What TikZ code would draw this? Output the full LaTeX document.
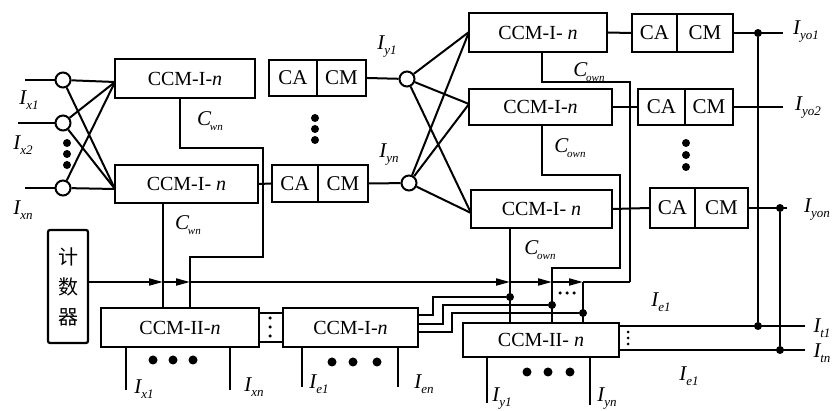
\documentclass[tikz,border=0pt]{standalone}
\usepackage{fontspec}
\setmainfont{Liberation Serif}
\newfontfamily\cjk{Noto Sans CJK SC}
\usetikzlibrary{arrows.meta}
\newcommand{\Iv}[1]{{\fontsize{21}{21}\selectfont\textit{I}\kern-1pt\raisebox{-5pt}{\fontsize{13}{13}\selectfont\textit{#1}}}}
\newcommand{\Cv}[1]{{\fontsize{21}{21}\selectfont\textit{C}\kern-1.5pt\raisebox{-5pt}{\fontsize{11}{11}\selectfont\textit{#1}}}}
\begin{document}
\begin{tikzpicture}[x=1pt,y=-1pt,
  box/.style={draw, line width=2.2pt, inner sep=0pt, font=\fontsize{20}{21}\selectfont},
  cabox/.style={draw, line width=2.2pt, inner sep=0pt, font=\fontsize{21}{22}\selectfont},
  wire/.style={line width=2pt},
  dot/.style={circle, fill, inner sep=0pt, minimum size=8pt},
  sdot/.style={circle, fill, inner sep=0pt, minimum size=3.5pt},
  port/.style={circle, draw, line width=2pt, fill=white, minimum size=15pt, inner sep=0pt},
  lab/.style={inner sep=0pt},
  arr/.style={-{Triangle[length=14pt,width=7pt]}}]
\useasboundingbox (0,0) rectangle (836,411);

% ---------- left input stage ----------
\node[port] (P1) at (63,80) {};
\node[port] (P2) at (63,123) {};
\node[port] (P3) at (63,188) {};
\coordinate (i1) at (25,80);
\coordinate (i2) at (18,123);
\coordinate (i3) at (25,188);
\draw[wire] (i1) -- (P1);
\draw[wire] (i2) -- (P2);
\draw[wire] (i3) -- (P3);
\foreach \y in {143,154,165} \node[dot] (ld\y) at (67,\y) {};
\node[lab] (lx1) at (29,100) {\Iv{x1}};
\node[lab] (lx2) at (23,145) {\Iv{x2}};
\node[lab] (lxn) at (23,210) {\Iv{xn}};

\node[box, minimum width=140pt, minimum height=39pt] (L1) at (185,78.5) {CCM-I-\textit{n}};
\node[box, minimum width=143pt, minimum height=38pt] (L2) at (186.5,184) {CCM-I- \textit{n}};
\coordinate (L1in) at (115,82);
\coordinate (L2in) at (115,189);
\foreach \p in {P1,P2,P3} {\draw[wire] (\p) -- (L1in); \draw[wire] (\p) -- (L2in);}

% ---------- middle CA/CM ----------
\node[cabox, minimum width=48pt, minimum height=36pt] (A1) at (293,78) {CA};
\node[cabox, minimum width=49pt, minimum height=36pt] (M1) at (341.5,78) {CM};
\node[cabox, minimum width=46pt, minimum height=37pt] (A2) at (295,183.5) {CA};
\node[cabox, minimum width=50pt, minimum height=37pt] (M2) at (343,183.5) {CM};
\foreach \y in {118,129,140} \node[dot] (md\y) at (315,\y) {};
\draw[wire] (L2.east) -- (A2.west);

\node[port] (Y1) at (407,79) {};
\node[port] (Y2) at (409,183) {};
\draw[wire] (M1.east) -- (Y1);
\draw[wire] (M2.east) -- (Y2);
\node[lab] (ly1) at (387,47) {\Iv{y1}};
\node[lab] (lyn) at (389,155) {\Iv{yn}};

% ---------- right CCM-I stage ----------
\node[box, minimum width=138pt, minimum height=39pt] (R1) at (538,32.5) {CCM-I- \textit{n}};
\node[box, minimum width=143pt, minimum height=36pt] (R2) at (540.5,107) {CCM-I-\textit{n}};
\node[box, minimum width=141pt, minimum height=38pt] (R3) at (541.5,209) {CCM-I- \textit{n}};
\coordinate (R1in) at (469,32);
\coordinate (R2in) at (469,104);
\coordinate (R3in) at (471,213);
\foreach \y in {Y1,Y2} \foreach \r in {R1in,R2in,R3in} \draw[wire] (\y) -- (\r);

\node[cabox, minimum width=45pt, minimum height=38pt] (RA1) at (654.5,33) {CA};
\node[cabox, minimum width=56pt, minimum height=38pt] (RM1) at (705,33) {CM};
\node[cabox, minimum width=47pt, minimum height=36pt] (RA2) at (661.5,107) {CA};
\node[cabox, minimum width=48pt, minimum height=36pt] (RM2) at (709,107) {CM};
\node[cabox, minimum width=45pt, minimum height=40pt] (RA3) at (672.5,208) {CA};
\node[cabox, minimum width=53pt, minimum height=40pt] (RM3) at (721.5,208) {CM};
\foreach \y in {143,155,167} \node[dot] (rd\y) at (686,\y) {};
\draw[wire] (R1.east) -- (RA1.west);
\draw[wire] (R2.east) -- (RA2.west);
\draw[wire] (R3.east) -- (RA3.west);

\coordinate (o1) at (783,33);
\coordinate (o2) at (783,107);
\coordinate (o3) at (787,208);
\draw[wire] (RM1.east) -- (o1);
\draw[wire] (RM2.east) -- (o2);
\draw[wire] (RM3.east) -- (o3);
\node[dot] (j1) at (758,33) {};
\node[dot] (j3) at (780,208) {};
\node[lab] (lo1) at (806,32) {\Iv{yo1}};
\node[lab] (lo2) at (808,108) {\Iv{yo2}};
\node[lab] (lo3) at (817,210) {\Iv{yon}};

% ---------- counter and bottom stage ----------
\node[box, minimum width=40pt, minimum height=113pt, rounded corners=2pt, align=center,
      font=\cjk\fontsize{20}{30}\selectfont] (cnt) at (68,286.5) {计\\数\\器};

\node[box, minimum width=158pt, minimum height=39pt] (B1) at (180,327.5) {CCM-II-\textit{n}};
\node[draw, line width=1.8pt, minimum width=24pt, minimum height=29pt, inner sep=0pt] (br) at (271,327.5) {};
\foreach \y in {318,327,336} \node[sdot] (bd\y) at (270,\y) {};
\node[box, minimum width=135pt, minimum height=39pt] (B2) at (350.5,327.5) {CCM-I-\textit{n}};
\node[box, minimum width=156pt, minimum height=34pt] (B3) at (541,340) {CCM-II- \textit{n}};

% counter bus with arrows
\coordinate (a1) at (163,282);
\coordinate (a2) at (190,282);
\coordinate (a3) at (510,282);
\coordinate (a4) at (552,282);
\coordinate (a5) at (583,282);
\coordinate (a6) at (630,282);
\draw[wire,arr] (cnt.east |- a1) -- (a1);
\draw[wire,arr] (a1) -- (a2);
\draw[wire,arr] (a2) -- (a3);
\draw[wire,arr] (a3) -- (a4);
\draw[wire,arr] (a4) -- (a5);
\draw[wire] (a5) -- (a6);

% C_wn lines
\draw[wire] ([xshift=-5pt]L1.south) |- (263,148) -- (263,257) -| (B1.north -| a2);
\draw[wire] (L2.south -| a1) -- (B1.north -| a1);
\node[lab] (lcw1) at (210,121) {\Cv{wn}};
\node[lab] (lcw2) at (188,225) {\Cv{wn}};

% C_own lines
\draw[wire] ([xshift=4pt]R1.south) |- (630,82) -- (a6);
\draw[wire] ([xshift=1.5pt]R2.south) |- (620,175) -- (620,268) -| (B3.north -| a4);
\draw[wire] (R3.south -| a3) -- (B3.north -| a3);
\draw[wire] (a5) -- (B3.north -| a5);
\node[lab] (lco1) at (589,72) {\Cv{own}};
\node[lab] (lco2) at (570,148) {\Cv{own}};
\node[lab] (lco3) at (540,250) {\Cv{own}};
\foreach \x in {560,567,574} \node[sdot] (ed\x) at (\x,293) {};

% bus from lower CCM-I to CCM-II
\coordinate (k1) at (433,315);
\coordinate (k2) at (443,324);
\coordinate (k3) at (452,332);
\node[dot] (b1) at (510,297) {};
\node[dot] (b2) at (552,305) {};
\node[dot] (b3) at (583,313) {};
\draw[wire] (B2.east |- k1) -- (k1) |- (b1);
\draw[wire] (B2.east |- k2) -- (k2) |- (b2);
\draw[wire] (B2.east |- k3) -- (k3) |- (b3);

% bottom inputs
\coordinate (e1) at (126,390);
\coordinate (e2) at (230,390);
\coordinate (e3) at (302,387);
\coordinate (e4) at (398,387);
\coordinate (e5) at (487,403);
\coordinate (e6) at (590,405);
\draw[wire] (B1.south -| e1) -- (e1);
\draw[wire] (B1.south -| e2) -- (e2);
\draw[wire] (B2.south -| e3) -- (e3);
\draw[wire] (B2.south -| e4) -- (e4);
\draw[wire] (B3.south -| e5) -- (e5);
\draw[wire] (B3.south -| e6) -- (e6);
\foreach \x in {153,173,193} \node[dot, minimum size=9pt] (bb\x) at (\x,360) {};
\foreach \x in {332,353,377} \node[dot, minimum size=9pt] (bc\x) at (\x,362) {};
\foreach \x in {527,548,570} \node[dot, minimum size=9pt] (bf\x) at (\x,372) {};
\node[lab] (lb1) at (144,389) {\Iv{x1}};
\node[lab] (lb2) at (254,387) {\Iv{xn}};
\node[lab] (lb3) at (319,384) {\Iv{e1}};
\node[lab] (lb4) at (424,384) {\Iv{en}};
\node[lab] (lb5) at (502,399) {\Iv{y1}};
\node[lab] (lb6) at (607,399) {\Iv{yn}};

% output t-lines
\coordinate (t1e) at (805,326);
\coordinate (t2e) at (805,350);
\draw[wire] (B3.east |- t1e) -- (t1e);
\draw[wire] (B3.east |- t2e) -- (t2e);
\node[dot] (jt1) at (758,326) {};
\node[dot] (jt2) at (780,350) {};
\draw[wire] (j1) -- (jt1);
\draw[wire] (j3) -- (jt2);
\foreach \y in {332,338,344} \node[sdot, minimum size=3pt] (td\y) at (628,\y) {};
\node[lab] (lt1) at (822,328) {\Iv{t1}};
\node[lab] (lt2) at (822,353) {\Iv{tn}};
\node[lab] (le1) at (661,302) {\Iv{e1}};
\node[lab] (le2) at (689,376) {\Iv{e1}};
\end{tikzpicture}
\end{document}
